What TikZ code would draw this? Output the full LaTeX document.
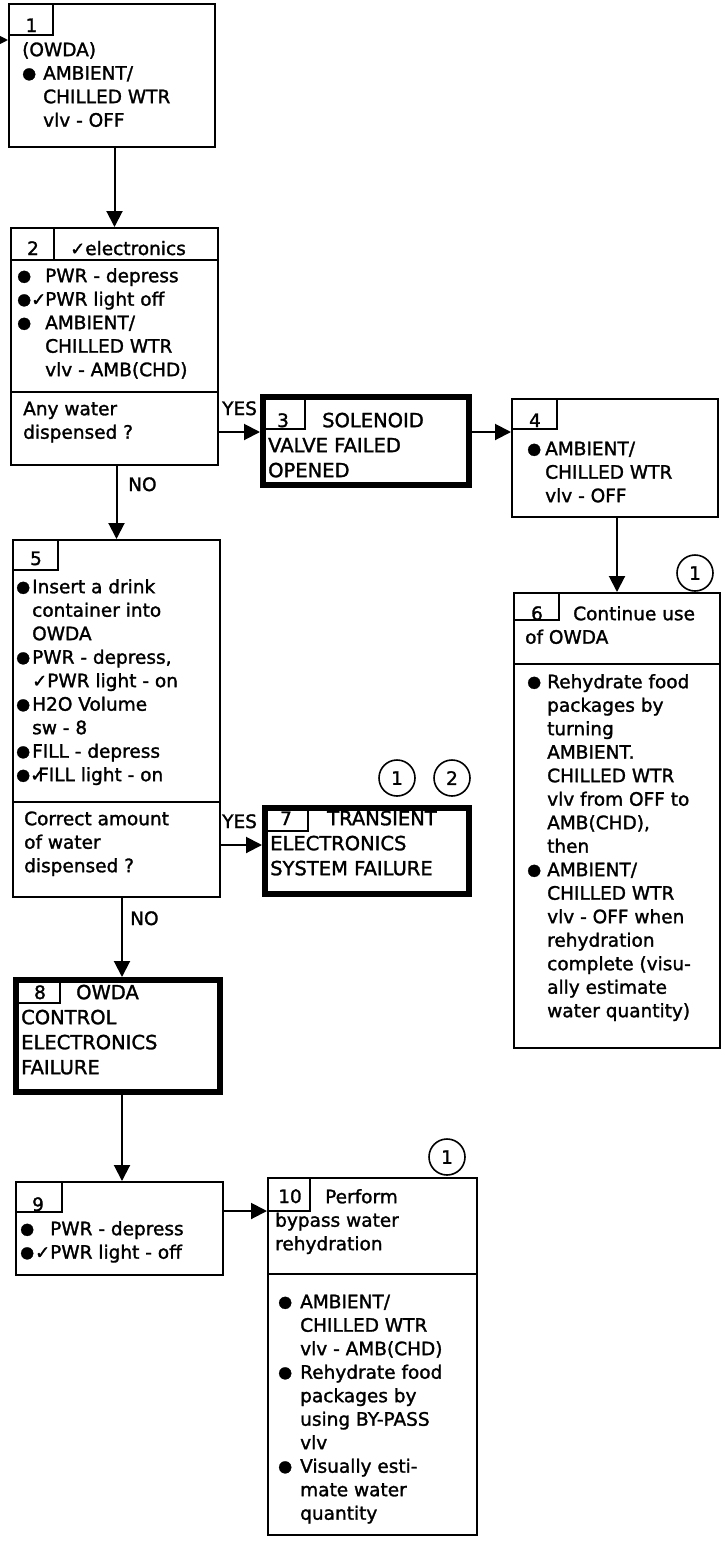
\documentclass[tikz,border=0pt]{standalone}
\usepackage{fontspec}
\setmainfont{DejaVu Sans}[FakeBold=1.5]
\usetikzlibrary{arrows.meta, positioning}
\newcommand{\bodyfont}{\fontsize{18.5}{23.5}\selectfont}
\newcommand{\failfont}{\fontsize{19.5}{25}\selectfont}
\newcommand{\chk}{{\fontsize{18}{18}\selectfont ✓}}
\newcommand{\dotsym}{\raisebox{1.2pt}{\fontsize{16}{16}\selectfont ●}}
\newcommand{\bul}[1]{\makebox[#1][l]{\dotsym}}
\newcommand{\bulchk}[1]{\makebox[#1][l]{\dotsym\hfill\chk}}
\newcommand{\ind}[1]{\hspace*{#1}}
\tikzset{
  box/.style={rectangle, draw, line width=2pt, inner sep=0pt},
  failbox/.style={rectangle, draw, line width=6pt, inner sep=0pt},
  txt/.style={anchor=north west, yshift=16.45pt, inner sep=0pt, align=left, font=\bodyfont},
  failtxt/.style={anchor=north west, yshift=17.5pt, inner sep=0pt, align=left, font=\failfont},
  tabnum/.style={anchor=base, inner sep=0pt, font=\bodyfont},
  hdr/.style={anchor=base west, inner sep=0pt, font=\bodyfont},
  lbl/.style={anchor=base west, inner sep=0pt, font=\bodyfont},
  refno/.style={circle, draw, line width=1.6pt, minimum size=36pt, inner sep=0pt, font=\bodyfont},
  arrow/.style={-{Triangle[length=16pt,width=16pt]}, line width=2pt},
  line/.style={line width=2pt}
}
\begin{document}
\begin{tikzpicture}[x=1pt, y=-1pt]
  \useasboundingbox (0,0) rectangle (725,1547);

  % boxes
  \node[box, minimum width=206pt, minimum height=143pt] (b1) at (112,75.5) {};
  \node[box, minimum width=207pt, minimum height=237pt] (b2) at (114.5,346.5) {};
  \node[failbox, minimum width=206pt, minimum height=88pt] (b3) at (366,441) {};
  \node[box, minimum width=206pt, minimum height=118pt] (b4) at (615,458) {};
  \node[box, minimum width=207pt, minimum height=357pt] (b5) at (116.5,718.5) {};
  \node[box, minimum width=206pt, minimum height=455pt] (b6) at (617,820.5) {};
  \node[failbox, minimum width=204pt, minimum height=86pt] (b7) at (367,851) {};
  \node[failbox, minimum width=204pt, minimum height=112pt] (b8) at (118,1036) {};
  \node[box, minimum width=207pt, minimum height=93pt] (b9) at (119.5,1228.5) {};
  \node[box, minimum width=209pt, minimum height=357pt] (b10) at (372.5,1356.5) {};

  % number tabs and dividers
  \draw[line] ([xshift=45pt]b1.north west) |- ([yshift=-32pt]b1.north west);
  \draw[line] ([xshift=44pt]b2.north west) -- ([xshift=44pt,yshift=-33pt]b2.north west);
  \draw[line] ([yshift=-33pt]b2.north west) -- ([yshift=-33pt]b2.north east);
  \draw[line] ([yshift=-165pt]b2.north west) -- ([yshift=-165pt]b2.north east);
  \draw[line] ([xshift=45pt]b3.north west) |- ([yshift=-35pt]b3.north west);
  \draw[line] ([xshift=46pt]b4.north west) |- ([yshift=-31pt]b4.north west);
  \draw[line] ([xshift=46pt]b5.north west) |- ([yshift=-31pt]b5.north west);
  \draw[line] ([yshift=-263pt]b5.north west) -- ([yshift=-263pt]b5.north east);
  \draw[line] ([xshift=46pt]b6.north west) |- ([yshift=-28pt]b6.north west);
  \draw[line] ([yshift=-72pt]b6.north west) -- ([yshift=-72pt]b6.north east);
  \draw[line] ([xshift=46pt]b7.north west) |- ([yshift=-26pt]b7.north west);
  \draw[line] ([xshift=47pt]b8.north west) |- ([yshift=-26pt]b8.north west);
  \draw[line] ([xshift=47pt]b9.north west) |- ([yshift=-31pt]b9.north west);
  \draw[line] ([xshift=43pt]b10.north west) |- ([yshift=-34pt]b10.north west);
  \draw[line] ([yshift=-97pt]b10.north west) -- ([yshift=-97pt]b10.north east);

  % box texts
  \node[tabnum] (n1) at (31.5,32) {1};
  \node[txt] (t1) at (22,56) {\strut(OWDA)\\\bul{21pt}AMBIENT/\\\ind{21pt}CHILLED WTR\\\ind{21pt}vlv - OFF};

  \node[tabnum] (n2) at (33,255) {2};
  \node[hdr] (h2) at (70,255) {\chk electronics};
  \node[txt] (t2) at (17,282) {\strut\bul{28pt}PWR - depress\\\bulchk{28pt}PWR light off\\\bul{28pt}AMBIENT/\\\ind{28pt}CHILLED WTR\\\ind{28pt}vlv - AMB(CHD)};
  \node[txt] (q2) at (23,415) {\strut Any water\\dispensed ?};

  \node[tabnum] (n3) at (283,427) {3};
  \node[failtxt] (t3) at (268,427) {\strut\hspace*{54pt}SOLENOID\\VALVE FAILED\\OPENED};

  \node[tabnum] (n4) at (535,427) {4};
  \node[txt] (t4) at (527,455) {\strut\bul{18pt}AMBIENT/\\\ind{18pt}CHILLED WTR\\\ind{18pt}vlv - OFF};

  \node[tabnum] (n5) at (36,565) {5};
  \node[txt] (t5) at (16,593) {\strut\bul{16pt}Insert a drink\\\ind{16pt}container into\\\ind{16pt}OWDA\\\bul{16pt}PWR - depress,\\\ind{16pt}\chk PWR light - on\\\bul{16pt}H2O Volume\\\ind{16pt}sw - 8\\\bul{16pt}FILL - depress\\\bulchk{22pt}FILL light - on};
  \node[txt] (q5) at (24,825) {\strut Correct amount\\of water\\dispensed ?};

  \node[tabnum] (n6) at (537,620) {6};
  \node[txt] (h6) at (525,620) {\strut\hspace*{48pt}Continue use\\of OWDA};
  \node[txt] (t6) at (527,688) {\strut\bul{20pt}Rehydrate food\\\ind{20pt}packages by\\\ind{20pt}turning\\\ind{20pt}AMBIENT.\\\ind{20pt}CHILLED WTR\\\ind{20pt}vlv from OFF to\\\ind{20pt}AMB(CHD),\\\ind{20pt}then\\\bul{20pt}AMBIENT/\\\ind{20pt}CHILLED WTR\\\ind{20pt}vlv - OFF when\\\ind{20pt}rehydration\\\ind{20pt}complete (visu-\\\ind{20pt}ally estimate\\\ind{20pt}water quantity)};

  \node[tabnum] (n7) at (286,825) {7};
  \node[failtxt] (t7) at (270,825) {\strut\hspace*{57pt}TRANSIENT\\ELECTRONICS\\SYSTEM FAILURE};

  \node[tabnum] (n8) at (40,999) {8};
  \node[failtxt] (t8) at (21,999) {\strut\hspace*{55pt}OWDA\\CONTROL\\ELECTRONICS\\FAILURE};

  \node[tabnum] (n9) at (38,1211) {9};
  \node[txt] (t9) at (20,1235) {\strut\bul{30pt}PWR - depress\\\bulchk{30pt}PWR light - off};

  \node[tabnum] (n10) at (290,1203) {10};
  \node[txt] (h10) at (275,1203) {\strut\hspace*{50pt}Perform\\bypass water\\rehydration};
  \node[txt] (t10) at (278,1308) {\strut\bul{22pt}AMBIENT/\\\ind{22pt}CHILLED WTR\\\ind{22pt}vlv - AMB(CHD)\\\bul{22pt}Rehydrate food\\\ind{22pt}packages by\\\ind{22pt}using BY-PASS\\\ind{22pt}vlv\\\bul{22pt}Visually esti-\\\ind{22pt}mate water\\\ind{22pt}quantity};

  % circled references
  \node[refno] (c6) at (695,573) {1};
  \node[refno] (c7a) at (397,778) {1};
  \node[refno] (c7b) at (452,778) {2};
  \node[refno] (c10) at (447,1157) {1};

  % connectors
  \coordinate (in) at (-20,40);
  \draw[arrow] (in) -- (in -| b1.west);
  \draw[arrow] (b1.south -| b2.north) -- (b2.north);
  \draw[arrow] ([yshift=-85.5pt]b2.east) -- ([yshift=9pt]b3.west);
  \draw[arrow] ([yshift=9pt]b3.east) -- ([yshift=26pt]b4.west);
  \draw[arrow] (b4.south -| b6.north) -- (b6.north);
  \draw[arrow] (b2.south -| b5.north) -- (b5.north);
  \draw[arrow] ([yshift=-126.5pt]b5.east) -- ([yshift=6pt]b7.west);
  \draw[arrow] ([xshift=5.5pt]b5.south) -- ([xshift=4pt]b8.north);
  \draw[arrow] ([xshift=4pt]b8.south) -- ([xshift=2.5pt]b9.north);
  \draw[arrow] ([yshift=17.5pt]b9.east) -- ([yshift=145.5pt]b10.west);

  % branch labels
  \node[lbl] (yes1) at (222,415) {YES};
  \node[lbl] (no1) at (128,491) {NO};
  \node[lbl] (yes2) at (222,828) {YES};
  \node[lbl] (no2) at (130,925) {NO};
\end{tikzpicture}
\end{document}
